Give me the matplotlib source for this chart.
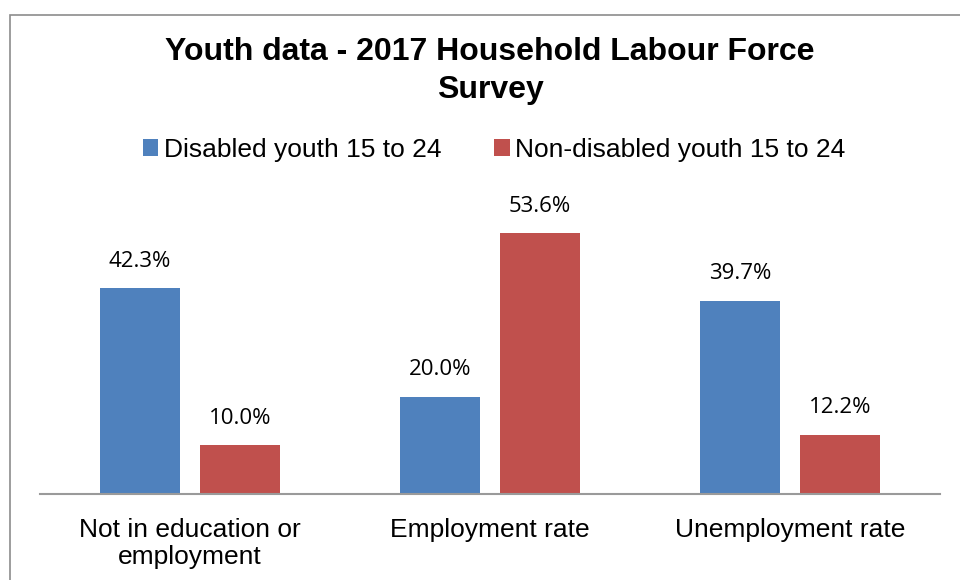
import numpy as np
import matplotlib.pyplot as plt
from matplotlib.patches import Rectangle

categories = ["Not in education or\nemployment", "Employment rate", "Unemployment rate"]
disabled = [42.3, 20.0, 39.7]
non_disabled = [10.0, 53.6, 12.2]
series_names = ["Disabled youth 15 to 24", "Non-disabled youth 15 to 24"]
blue = "#4F81BD"
red = "#C0504D"

fig = plt.figure(figsize=(9.6, 5.8), dpi=100)
ax = fig.add_axes([40/960, 1-494/580, 900/960, 292/580])

x = np.arange(len(categories))
w = 80/300
off = 50/300
b1 = ax.bar(x - off, disabled, w, color=blue, label=series_names[0])
b2 = ax.bar(x + off, non_disabled, w, color=red, label=series_names[1])

for bars, vals in ((b1, disabled), (b2, non_disabled)):
    for r, v in zip(bars, vals):
        ax.text(r.get_x() + r.get_width()/2, v + 3.4, "%.1f%%" % v,
                ha="center", va="bottom", fontsize=16, family="Open Sans")

ax.set_xlim(-0.5, 2.5)
ax.set_ylim(0, 60)
ax.set_yticks([])
ax.set_xticks(x)
ax.set_xticklabels(categories, fontsize=19, family="Liberation Sans", linespacing=1.2)
ax.tick_params(axis="x", length=0, pad=17)
for s in ["top", "right", "left"]:
    ax.spines[s].set_visible(False)
ax.spines["bottom"].set_color("#9a9a9a")
ax.spines["bottom"].set_linewidth(1.5)

cx = 490/960
fig.text(cx, 1-52/580, "Youth data - 2017 Household Labour Force", ha="center", va="center",
         fontsize=23, fontweight="bold", family="Liberation Sans")
fig.text(cx, 1-90/580, "Survey", ha="center", va="center",
         fontsize=23, fontweight="bold", family="Liberation Sans")

leg = fig.legend(loc="center", bbox_to_anchor=(494/960, 1-150/580), ncol=2, frameon=False,
                 prop={"family": "Liberation Sans", "size": 19},
                 handlelength=0.6, handleheight=0.6, handletextpad=0.2, columnspacing=2.0)

fig.patches.append(Rectangle((10/960, -0.1), 1.2, 1.1 - 15/580, transform=fig.transFigure,
                             fill=False, edgecolor="#8c8c8c", linewidth=1.2))

fig.savefig("out.png", dpi=100)
